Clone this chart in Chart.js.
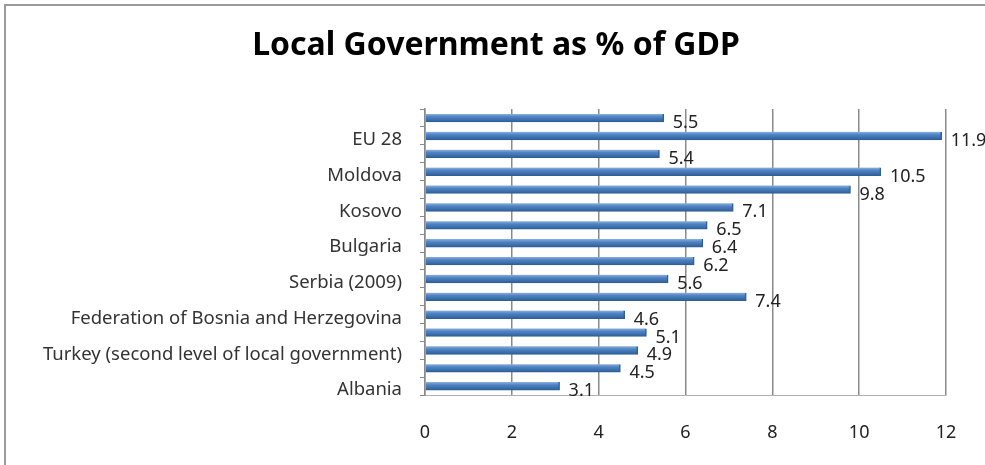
<!DOCTYPE html>
<html>
<head>
<meta charset="utf-8">
<script src="https://cdn.jsdelivr.net/npm/chart.js@4.4.0/dist/chart.umd.min.js"></script>
<style>
  body { margin: 0; background: #fff; overflow: hidden; }
  #frame { position: absolute; left: 4px; top: 4px; width: 981px; height: 461px; border-left: 2px solid #9a9a9a; border-top: 2px solid #9a9a9a; box-sizing: border-box; }
  #wrap { position: absolute; left: 0; top: 0; width: 985px; height: 465px; }
</style>
</head>
<body>
<div id="frame"></div>
<div id="wrap"><canvas id="chart" width="985" height="465"></canvas></div>
<script>
// categories top -> bottom (only every second label is printed in the original)
const categories = [
  '', 'EU 28', '', 'Moldova', '', 'Kosovo', '', 'Bulgaria',
  '', 'Serbia (2009)', '', 'Federation of Bosnia and Herzegovina',
  '', 'Turkey (second level of local government)', '', 'Albania'
];
const values = [5.5, 11.9, 5.4, 10.5, 9.8, 7.1, 6.5, 6.4, 6.2, 5.6, 7.4, 4.6, 5.1, 4.9, 4.5, 3.1];
const xTicks = [0, 2, 4, 6, 8, 10, 12];
const chartTitle = 'Local Government as % of GDP';

const FONT = '"Noto Sans", "Open Sans", sans-serif';

// Titel selbst zeichnen (zentriert über der ganzen Grafik)
const titlePlugin = {
  id: 'titlePlugin',
  afterDraw(chart) {
    const ctx = chart.ctx;
    ctx.save();
    ctx.font = 'bold 32px ' + FONT;
    ctx.fillStyle = '#000';
    ctx.textAlign = 'center';
    ctx.textBaseline = 'middle';
    ctx.fillText(chartTitle, 496, 46);
    ctx.restore();
  }
};

// Zahlen rechts neben die Balken schreiben
const valueLabels = {
  id: 'valueLabels',
  afterDatasetsDraw(chart) {
    const ctx = chart.ctx;
    const meta = chart.getDatasetMeta(0);
    ctx.save();
    ctx.font = '18px ' + FONT;
    ctx.fillStyle = '#222';
    ctx.textAlign = 'left';
    ctx.textBaseline = 'middle';
    meta.data.forEach((bar, i) => {
      ctx.fillText(values[i].toString(), bar.x + 9, bar.y + 5);
    });
    ctx.restore();
  }
};

// Zylinder-Look: heller oben, dunkler unten
function barFill(c) {
  const chart = c.chart;
  if (!chart.chartArea || !chart.scales.y) return '#4a7ebb';
  const y = chart.scales.y.getPixelForValue(c.dataIndex);
  const g = chart.ctx.createLinearGradient(0, y - 4, 0, y + 4);
  g.addColorStop(0, '#8db0e0');
  g.addColorStop(0.35, '#4f84c4');
  g.addColorStop(1, '#2f5f98');
  return g;
}

new Chart(document.getElementById('chart'), {
  type: 'bar',
  data: {
    labels: categories,
    datasets: [{
      data: values,
      backgroundColor: barFill,
      borderColor: '#2f5f98',
      borderWidth: { bottom: 1, top: 0, left: 0, right: 1.5 },
      borderSkipped: false,
      barThickness: 8
    }]
  },
  options: {
    indexAxis: 'y',
    responsive: false,
    animation: false,
    layout: { padding: { left: 0, right: 39, top: 109, bottom: 0 } },
    plugins: {
      legend: { display: false },
      tooltip: { enabled: false },
      title: { display: false }
    },
    scales: {
      x: {
        min: 0,
        max: 12,
        afterBuildTicks: (scale) => { scale.ticks = xTicks.map(v => ({ value: v })); },
        afterFit: (scale) => { scale.height = 70; },
        grid: { color: '#8a8a8a', lineWidth: 1.5, drawTicks: false },
        border: { display: true, color: '#b0b0b0' },
        ticks: { color: '#222', padding: 27, font: { family: FONT, size: 18 } }
      },
      y: {
        afterFit: (scale) => { scale.width = 425; },
        grid: { display: true, drawOnChartArea: false, tickLength: 5, color: '#8a8a8a', offset: true },
        border: { display: true, color: '#8a8a8a', width: 1.5 },
        ticks: { autoSkip: false, color: '#333', padding: 18, labelOffset: 4, font: { family: FONT, size: 18.5 } }
      }
    }
  },
  plugins: [valueLabels, titlePlugin]
});
</script>
</body>
</html>
